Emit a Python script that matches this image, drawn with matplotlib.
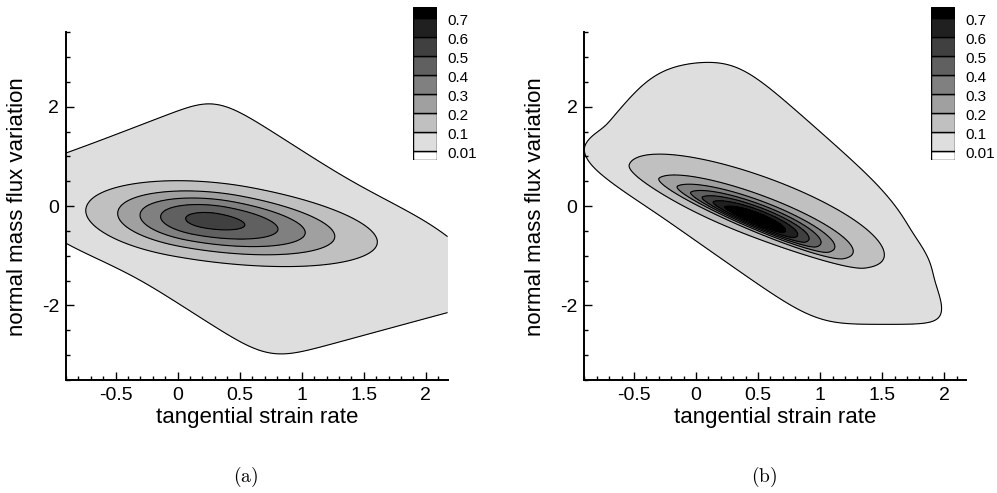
import numpy as np
import matplotlib.pyplot as plt
from matplotlib.ticker import MultipleLocator, FormatStrFormatter

plt.rcParams['font.family'] = 'Liberation Sans'
plt.rcParams['mathtext.fontset'] = 'cm'
plt.rcParams['axes.unicode_minus'] = False

# contour levels and the legend
levels = [0.01, 0.1, 0.2, 0.3, 0.4, 0.5, 0.6, 0.7]
level_labels = ['0.01', '0.1', '0.2', '0.3', '0.4', '0.5', '0.6', '0.7']
band_grays = ['#dedede', '#c0c0c0', '#a0a0a0', '#808080',
              '#606060', '#404040', '#202020', '#000000']

x_range = [-0.9, 2.175]
y_range = [-3.5, 3.5]
panel_names = ['(a)', '(b)']

# joint pdf
# lobes: peak, centre, slope of the long axis, sigmas on each side
# (long: upper-left / lower-right, short: lower-left / upper-right),
# shape exponent (2 = gaussian, larger = flatter top)
a_peak = [0.51]
a_cx = [0.27]
a_cy = [-0.29]
a_slope = [-0.46]
a_long = [(0.53, 0.72)]
a_short = [(0.39, 0.37)]
a_shape = [2]
# low-level skirt bounded by straight edges y - s*x = c around a centre
a_edge_s = [0.96, -1.6, 0.68, -1.6]
a_edge_c = [1.92, 2.72, -3.62, -1.95]
a_skirt_ctr = (0.57, -0.47)

b_peak = [0.70, 0.10]
b_cx = [0.47, 0.50]
b_cy = [-0.27, 0.0]
b_slope = [-1.1, -1.1]
b_long = [(0.55, 0.55), (1.40, 1.40)]
b_short = [(0.08, 0.18), (0.48, 0.48)]
b_shape = [2, 6]
b_edge_s = [-2.2, -1.75, 3.0, 0.0, 0.0, -6.0]
b_edge_c = [3.7, -0.7, 3.8, 2.93, -2.38, 10.0]
b_skirt_ctr = (0.6, 0.2)

skirt_peak = 0.03


def lobes(X, Y, peak, cx, cy, slope, s_long, s_short, shape):
    Z = np.zeros_like(X)
    for k in range(len(peak)):
        th = np.arctan(slope[k])
        dx, dy = X - cx[k], Y - cy[k]
        u = dx * np.cos(th) + dy * np.sin(th)
        v = -dx * np.sin(th) + dy * np.cos(th)
        su = np.where(u < 0, s_long[k][0], s_long[k][1])
        sv = np.where(v < 0, s_short[k][0], s_short[k][1])
        r2 = (u / su) ** 2 + (v / sv) ** 2
        Z += peak[k] * np.exp(-0.5 * r2 ** (shape[k] / 2))
    return Z


def skirt(X, Y, edge_s, edge_c, ctr, p=10, q=12):
    acc = np.zeros_like(X)
    for s, c in zip(edge_s, edge_c):
        g0 = ctr[1] - s * ctr[0]
        t = (Y - s * X - g0) / (c - g0)
        acc += np.clip(t, 0, None) ** p
    n = acc ** (1.0 / p)
    return skirt_peak * (levels[0] / skirt_peak) ** (n ** q)


xg = np.linspace(x_range[0], x_range[1], 400)
yg = np.linspace(y_range[0], y_range[1], 400)
X, Y = np.meshgrid(xg, yg)

Za = lobes(X, Y, a_peak, a_cx, a_cy, a_slope, a_long, a_short, a_shape) \
    + skirt(X, Y, a_edge_s, a_edge_c, a_skirt_ctr)
Zb = lobes(X, Y, b_peak, b_cx, b_cy, b_slope, b_long, b_short, b_shape) \
    + skirt(X, Y, b_edge_s, b_edge_c, b_skirt_ctr)

fig = plt.figure(figsize=(9.97, 4.93), dpi=100)

ax_pos = [[0.0662, 0.2292, 0.3827, 0.7053], [0.5861, 0.2292, 0.3827, 0.7053]]
leg_pos = [[0.4142, 0.6755, 0.0241, 0.3097], [0.9341, 0.6755, 0.0241, 0.3097]]

for Z, pos, lpos, name in zip([Za, Zb], ax_pos, leg_pos, panel_names):
    ax = fig.add_axes(pos)
    ax.contourf(X, Y, Z, levels=levels + [1.0], colors=band_grays)
    ax.contour(X, Y, Z, levels=levels, colors='black', linewidths=0.8)

    ax.set_xlim(x_range)
    ax.set_ylim(y_range)
    ax.spines['top'].set_visible(False)
    ax.spines['right'].set_visible(False)
    ax.spines['left'].set_linewidth(1.4)
    ax.spines['bottom'].set_linewidth(1.4)
    ax.xaxis.set_major_locator(MultipleLocator(0.5))
    ax.xaxis.set_minor_locator(MultipleLocator(0.1))
    ax.yaxis.set_major_locator(MultipleLocator(2))
    ax.yaxis.set_minor_locator(MultipleLocator(0.5))
    ax.xaxis.set_major_formatter(FormatStrFormatter('%g'))
    ax.yaxis.set_major_formatter(FormatStrFormatter('%g'))
    ax.tick_params(which='both', direction='in', top=False, right=False,
                   width=1.0, labelsize=14, pad=5)
    ax.tick_params(which='major', length=6)
    ax.tick_params(which='minor', length=3)
    ax.set_xlabel('tangential strain rate', fontsize=16, labelpad=2)
    ax.set_ylabel('normal mass flux variation', fontsize=16, labelpad=10)

    # level legend: white box, seven bands, black box
    box_h = [0.47] + [1.0] * 7 + [0.54]
    box_c = ['white'] + band_grays
    bottoms = np.concatenate([[0], np.cumsum(box_h)[:-1]])
    lax = fig.add_axes(lpos)
    lax.bar(0.5, box_h, width=1.0, bottom=bottoms, color=box_c,
            edgecolor='black', linewidth=1.0)
    lax.set_xlim(0, 1)
    lax.set_ylim(0, sum(box_h))
    lax.axis('off')
    for lab, b in zip(level_labels, bottoms[1:]):
        lax.text(1.42, b - 0.17, lab, fontsize=11, va='center', ha='left')

    fig.text(pos[0] + pos[2] / 2 - 0.011, 0.032, r'$\mathrm{' + name + '}$',
             fontsize=14, ha='center', va='center')

fig.savefig('out.png', dpi=100)
